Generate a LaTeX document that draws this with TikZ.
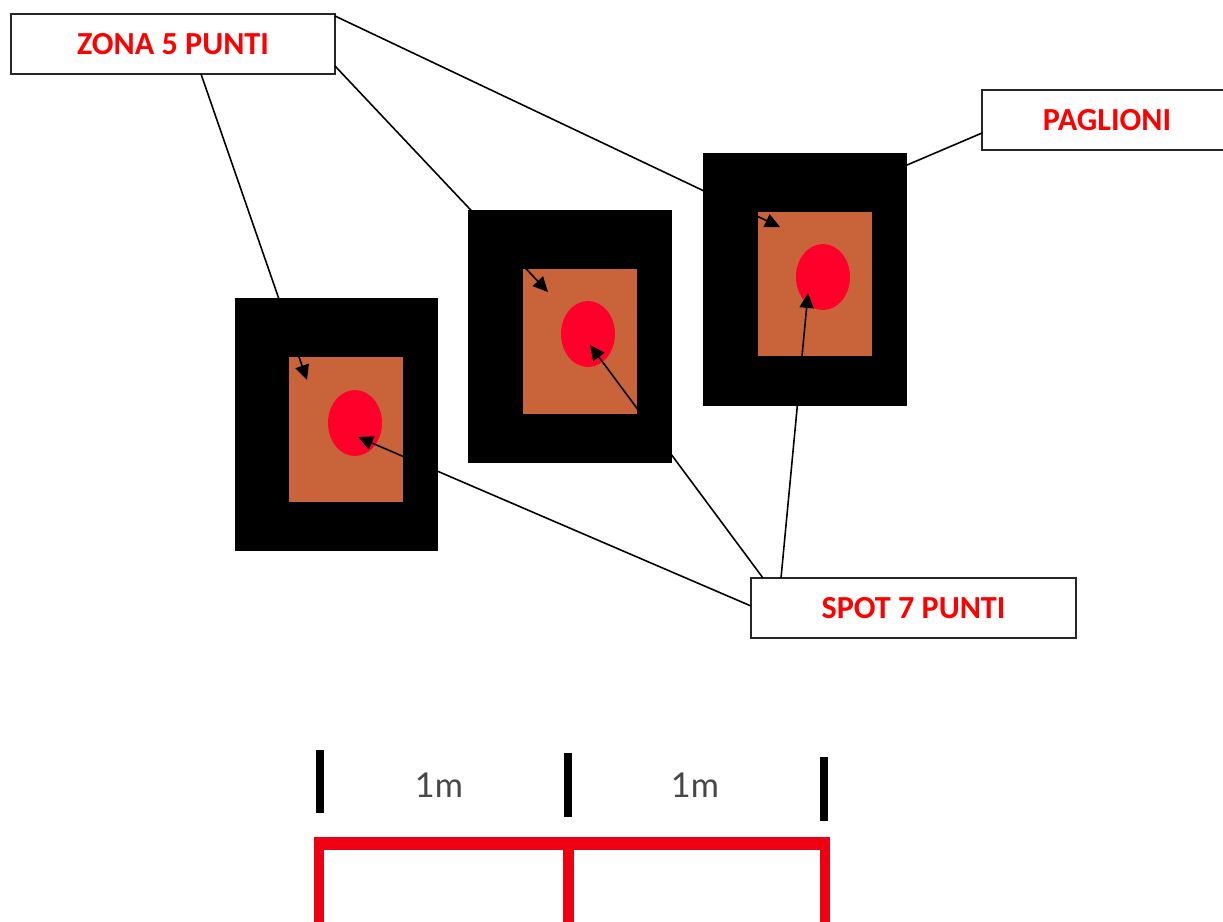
\documentclass[tikz,border=0pt]{standalone}
\usepackage{fontspec}
\newfontfamily\labelfont{Carlito}
\newfontfamily\dimfont{Lato}
\usetikzlibrary{arrows.meta,shapes.geometric}

\definecolor{straw}{RGB}{201,99,58}
\definecolor{spotred}{RGB}{255,0,42}
\definecolor{labelred}{RGB}{255,0,0}
\definecolor{framered}{RGB}{238,0,18}

\tikzset{
  tag/.style={draw=black!85, line width=1.1pt, fill=white, inner sep=0pt,
    minimum height=1.2cm, text=labelred,
    font=\labelfont\bfseries\fontsize{18.3}{20}\selectfont},
  bale/.style={fill=black, inner sep=0pt, minimum width=4.07cm, minimum height=5.06cm},
  core/.style={fill=straw, inner sep=0pt, minimum width=2.28cm, minimum height=2.9cm},
  bullseye/.style={ellipse, fill=spotred, inner sep=0pt, minimum width=1.08cm, minimum height=1.32cm},
  leader/.style={line width=0.9pt, black},
  pointer/.style={leader, -{Triangle[length=8.5pt,width=8pt]}},
  tick/.style={line width=4.8pt, black},
  frame/.style={line width=6pt, framered},
  dimlabel/.style={text=black!72, font=\dimfont\fontsize{19.5}{22}\selectfont, inner sep=0pt}
}

\begin{document}
\begin{tikzpicture}[x=0.02cm, y=-0.02cm]
  \useasboundingbox (0,0) rectangle (1223,921);

  % straw bales with their scoring zones
  \node[bale] (b1) at (336.5,424.5) {};
  \node[core] (c1) at (346,429.5) {};
  \node[bullseye] (e1) at (355,423) {};

  \node[bale] (b2) at (570,336.5) {};
  \node[core] (c2) at (580,341.5) {};
  \node[bullseye] (e2) at (588,334) {};

  \node[bale] (b3) at (805,279.5) {};
  \node[core] (c3) at (815,284) {};
  \node[bullseye] (e3) at (823,277) {};

  % label boxes
  \node[tag, minimum width=6.48cm] (zona) at (173,44) {ZONA 5 PUNTI};
  \node[tag, minimum width=5.0cm] (pag) at (1107,120) {PAGLIONI};
  \node[tag, minimum width=6.5cm] (spot) at (913.5,608) {SPOT 7 PUNTI};

  % leader end points
  \coordinate (z1) at (201,74);
  \coordinate (z2) at (335,66);
  \coordinate (z3) at (335,16);
  \coordinate (s1) at (751,606);
  \coordinate (s2) at (763,578);
  \coordinate (s3) at (781,578);
  \coordinate (p1) at (982,133);
  \coordinate (q3) at (907,165);
  \coordinate (a1) at (307,380);
  \coordinate (a2) at (548,292);
  \coordinate (a3) at (780,227);
  \coordinate (d1) at (358,437);
  \coordinate (d2) at (590,345);
  \coordinate (d3) at (808,293);

  % leaders: zone, spot and bale
  \draw[pointer] (z1) -- (a1);
  \draw[pointer] (z2) -- (a2);
  \draw[pointer] (z3) -- (a3);
  \draw[pointer] (s1) -- (d1);
  \draw[pointer] (s2) -- (d2);
  \draw[pointer] (s3) -- (d3);
  \draw[leader] (p1) -- (q3);

  % distance marks
  \draw[tick] (320,750) -- (320,813);
  \draw[tick] (568,753) -- (568,817);
  \draw[tick] (824,757) -- (824,821);
  \node[dimlabel] (m1) at (439,785) {1m};
  \node[dimlabel] (m2) at (695,785) {1m};

  % red frame
  \draw[framered, line width=7.4pt] (314,843) -- (830,843);
  \draw[frame] (319,843) -- (319,930);
  \draw[frame] (568.5,843) -- (568.5,930);
  \draw[frame] (825,843) -- (825,930);
\end{tikzpicture}
\end{document}
